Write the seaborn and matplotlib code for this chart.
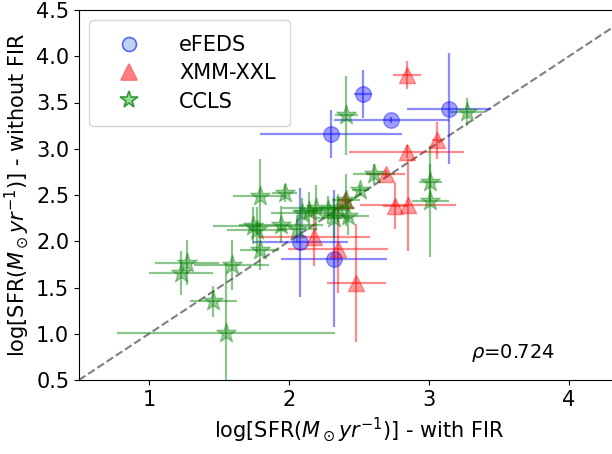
import matplotlib
matplotlib.use("Agg")
import matplotlib.pyplot as plt
from matplotlib.lines import Line2D
import seaborn as sns
import numpy as np
import pandas as pd

# eFEDS
efeds_x = [2.53, 2.73, 2.30, 3.14, 2.08, 2.32]
efeds_y = [3.59, 3.31, 3.16, 3.43, 1.99, 1.81]
efeds_xerr = [0.065, 0.41, 0.51, 0.30, 0.34, 0.38]
efeds_yerr = [0.26, 0.03, 0.26, 0.60, 0.59, 0.74]

# XMM-XXL
xxl_x = [2.84, 3.06, 2.84, 2.69, 2.76, 2.85, 2.18, 2.35, 2.48, 2.40]
xxl_y = [3.80, 3.09, 2.97, 2.73, 2.38, 2.39, 2.05, 1.92, 1.55, 2.45]
xxl_xerr = [0.10, 0.04, 0.41, 0.14, 0.09, 0.34, 0.40, 0.36, 0.21, 0.05]
xxl_yerr = [0.15, 0.20, 0.07, 0.04, 0.25, 0.50, 0.32, 0.48, 0.64, 0.05]

# CCLS
ccls_x = [2.41, 3.27, 3.01, 3.01, 2.61, 2.51, 2.41, 2.35, 2.42, 2.28, 2.19, 2.14, 2.09,
          2.06, 2.32, 1.97, 1.79, 1.74, 1.77, 1.79, 1.94, 1.27, 1.23, 1.59, 1.46, 1.55]
ccls_y = [3.36, 3.40, 2.64, 2.43, 2.73, 2.55, 2.45, 2.36, 2.27, 2.34, 2.36, 2.33, 2.31,
          2.13, 2.25, 2.52, 2.49, 2.17, 2.12, 1.91, 2.18, 1.77, 1.66, 1.74, 1.35, 1.01]
ccls_xerr = [0.08, 0.12, 0.08, 0.13, 0.15, 0.06, 0.10, 0.12, 0.15, 0.15, 0.24, 0.10, 0.22,
             0.14, 0.13, 0.09, 0.19, 0.28, 0.21, 0.14, 0.30, 0.23, 0.23, 0.27, 0.17, 0.78]
ccls_yerr = [0.43, 0.15, 0.20, 0.60, 0.11, 0.06, 0.28, 0.15, 0.20, 0.15, 0.25, 0.20, 0.16,
             0.15, 0.22, 0.10, 0.40, 0.20, 0.25, 0.22, 0.20, 0.24, 0.24, 0.27, 0.17, 0.75]

rho_text = r"$\rho$=0.724"
xlabel = r"log[SFR($M_\odot yr^{-1}$)] - with FIR"
ylabel = r"log[SFR($M_\odot yr^{-1}$)] - without FIR"

fig = plt.figure(figsize=(6.12, 4.54), dpi=100)
ax = fig.add_axes([79/612, 74/454, 560/612, 370/454])

groups = [
    ("eFEDS", efeds_x, efeds_y, efeds_xerr, efeds_yerr, "blue", "o", 125),
    ("XMM-XXL", xxl_x, xxl_y, xxl_xerr, xxl_yerr, "red", "^", 135),
    ("CCLS", ccls_x, ccls_y, ccls_xerr, ccls_yerr, "green", "*", 220),
]

ax.axline((0.5, 0.5), slope=1, color="gray", ls="--", lw=1.5, zorder=1)

for name, x, y, xe, ye, c, m, s in groups:
    ax.errorbar(x, y, xerr=xe, yerr=ye, fmt="none", ecolor=c, alpha=0.45, lw=1.6, zorder=2)
    df = pd.DataFrame({"x": x, "y": y})
    sns.scatterplot(data=df, x="x", y="y", ax=ax, marker=m, s=s, color=c,
                    edgecolor=c, linewidth=1.0, alpha=0.38, zorder=3, legend=False)

ax.set_xlim(0.5, 4.5)
ax.set_ylim(0.5, 4.5)
ax.set_xticks([1, 2, 3, 4])
ax.set_yticks([0.5, 1.0, 1.5, 2.0, 2.5, 3.0, 3.5, 4.0, 4.5])
ax.tick_params(labelsize=15)
ax.set_xlabel(xlabel, fontsize=15)
ax.set_ylabel(ylabel, fontsize=15)

ax.text(3.6, 0.79, rho_text, fontsize=14, ha="center", va="center")

handles = [
    Line2D([], [], ls="none", marker="o", ms=10, mfc="#bcd4f0", mec="#5566ee", mew=1.2),
    Line2D([], [], ls="none", marker="^", ms=11, mfc="#ff8080", mec="#ff7070", mew=1.2),
    Line2D([], [], ls="none", marker="*", ms=13, mfc="#99dd99", mec="#339933", mew=1.2),
]
ax.legend(handles, ["eFEDS", "XMM-XXL", "CCLS"], loc="upper left", fontsize=15,
          borderpad=0.7, handletextpad=1.2, labelspacing=0.4, handlelength=2.4)

fig.savefig("out.png", dpi=100)
